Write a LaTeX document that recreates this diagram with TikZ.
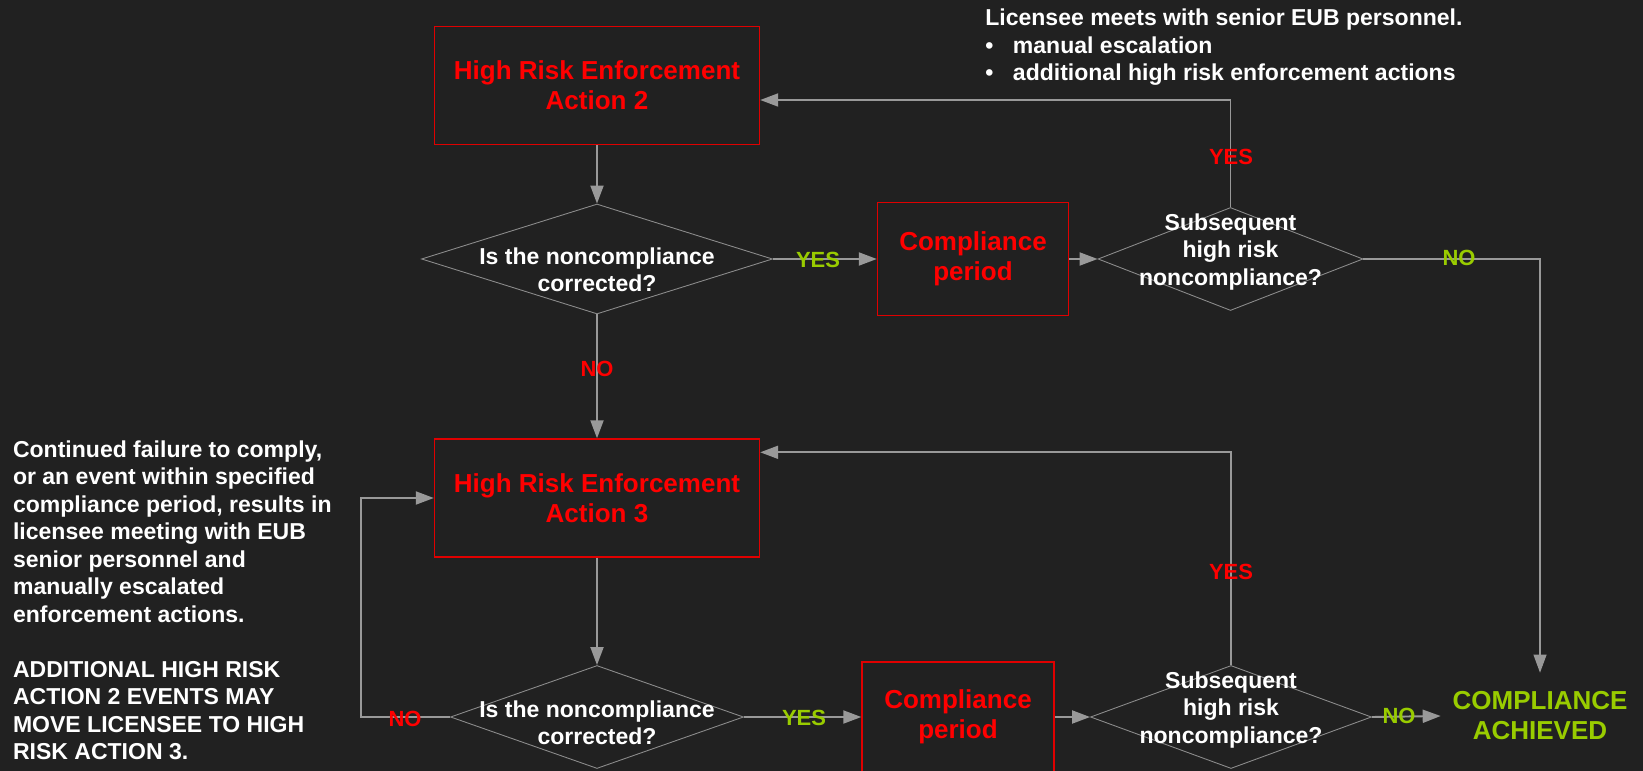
\documentclass[tikz,border=0pt]{standalone}
\usepackage{fontspec}
\setmainfont{Liberation Sans}
\usetikzlibrary{shapes.geometric, arrows.meta}
\definecolor{bgdark}{HTML}{212121}
\definecolor{riskred}{HTML}{FF0000}
\definecolor{boxred}{HTML}{E00000}
\definecolor{okgreen}{HTML}{99CC00}
\definecolor{linegray}{HTML}{999999}
\definecolor{edgegray}{HTML}{8C8C8C}

\begin{document}
\begin{tikzpicture}[
    hrbox/.style={draw=boxred, line width=0.8pt, minimum width=6.5cm, minimum height=2.36cm, align=center, text=riskred, font=\fontsize{14.8pt}{17.1pt}\selectfont\bfseries},
    compbox/.style={hrbox, minimum width=3.82cm, minimum height=2.26cm},
    decision/.style={draw=edgegray, line width=0.5pt, diamond, inner sep=0pt},
    qtext/.style={text=white, align=center, inner sep=0pt, font=\fontsize{13.1pt}{15.4pt}\selectfont\bfseries},
    answer/.style={inner sep=0pt, font=\fontsize{12.5pt}{14pt}\selectfont\bfseries},
    flow/.style={draw=linegray, line width=1.1pt, -{Triangle[length=0.36cm, width=0.26cm]}},
    thinflow/.style={flow, line width=0.6pt},
    note/.style={text=white, align=left, anchor=north west, inner sep=0pt, font=\fontsize{13.1pt}{15.65pt}\selectfont\bfseries},
]
    \fill[bgdark] (0,0) rectangle (32.86,-15.42);
    \useasboundingbox (0,0) rectangle (32.86,-15.42);

    \node[hrbox] (hr2) at (11.94,-1.71) {High Risk Enforcement\\Action 2};
    \node[decision, minimum width=7.02cm, minimum height=2.2cm] (fix2) at (11.94,-5.18) {};
    \node[qtext] (fix2txt) at (11.94,-5.4) {Is the noncompliance\\corrected?};
    \node[compbox] (per2) at (19.46,-5.18) {Compliance\\period};
    \node[decision, minimum width=5.3cm, minimum height=2.06cm] (again2) at (24.61,-5.18) {};
    \node[qtext] (again2txt) at (24.61,-5.04) {Subsequent\\high risk\\noncompliance?};

    \node[hrbox] (hr3) at (11.94,-9.96) {High Risk Enforcement\\Action 3};
    \node[decision, minimum width=5.86cm, minimum height=2.06cm] (fix3) at (11.94,-14.34) {};
    \node[qtext] (fix3txt) at (11.94,-14.46) {Is the noncompliance\\corrected?};
    \node[compbox, minimum width=3.84cm, minimum height=2.2cm] (per3) at (19.16,-14.34) {Compliance\\period};
    \node[decision, minimum width=5.62cm, minimum height=2.06cm] (again3) at (24.62,-14.34) {};
    \node[qtext] (again3txt) at (24.62,-14.2) {Subsequent\\high risk\\noncompliance?};

    \node[align=center, text=okgreen, inner sep=0pt, minimum width=3.96cm, minimum height=1.72cm, font=\fontsize{14.8pt}{17.1pt}\selectfont\bfseries] (done) at (30.8,-14.32) {COMPLIANCE\\ACHIEVED};

    \node[note] (topnote) at (19.7,-0.17) {Licensee meets with senior EUB personnel.\\
        \makebox[1.2em][l]{\textbullet}manual escalation\\
        \makebox[1.2em][l]{\textbullet}additional high risk enforcement actions};
    \node[note] (leftnote) at (0.254,-8.8) {Continued failure to comply,\\or an event within specified\\compliance period, results in\\licensee meeting with EUB\\senior personnel and\\manually escalated\\enforcement actions.\\[15.65pt]
        ADDITIONAL HIGH RISK\\ACTION 2 EVENTS MAY\\MOVE LICENSEE TO HIGH\\RISK ACTION 3.};

    \draw[flow] (hr2.south) -- (fix2.north);
    \draw[flow] (fix2.east) -- (per2.west);
    \draw[flow] (per2.east) -- (again2.west);
    \draw[flow] (again2.north) |- ([yshift=-0.29cm]hr2.east);
    \draw[thinflow] (again2.east) -| (done.north);
    \draw[flow] (fix2.south) -- (hr3.north);
    \draw[flow] (hr3.south) -- (fix3.north);
    \draw[flow] (fix3.west) -- ++(-1.78,0) |- (hr3.west);
    \draw[flow] (fix3.east) -- (per3.west);
    \draw[flow] (per3.east) -- (again3.west);
    \draw[flow] (again3.north) |- ([yshift=-0.28cm]hr3.north east);
    \draw[flow] (again3.east) -- (done.west);

    \node[answer, text=okgreen] (yes2) at (16.36,-5.2) {YES};
    \node[answer, text=riskred] (back2) at (24.62,-3.14) {YES};
    \node[answer, text=okgreen] (ok2) at (29.18,-5.16) {NO};
    \node[answer, text=riskred] (no2) at (11.94,-7.38) {NO};
    \node[answer, text=riskred] (no3) at (8.1,-14.38) {NO};
    \node[answer, text=okgreen] (yes3) at (16.08,-14.36) {YES};
    \node[answer, text=riskred] (back3) at (24.62,-11.44) {YES};
    \node[answer, text=okgreen] (ok3) at (27.98,-14.32) {NO};
\end{tikzpicture}
\end{document}
